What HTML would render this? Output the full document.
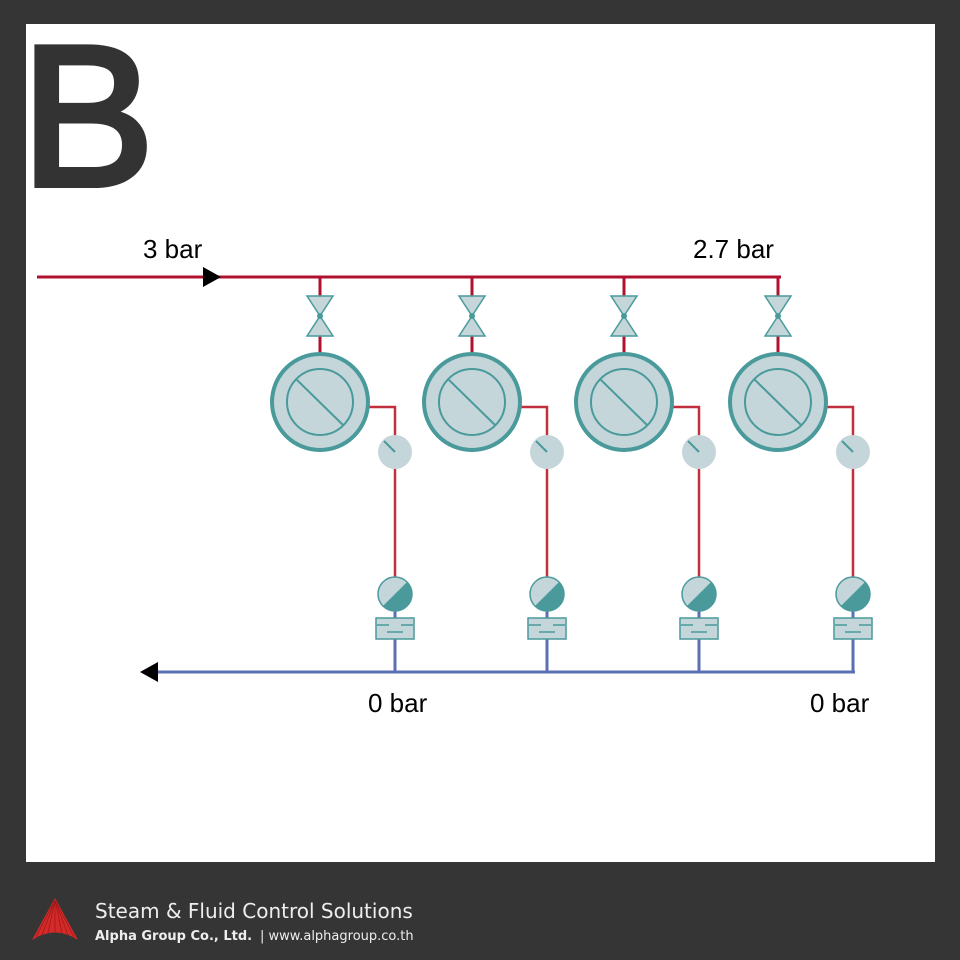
<!DOCTYPE html>
<html><head><meta charset="utf-8"><style>
html,body{margin:0;padding:0;background:#353535;}
svg{display:block}
</style></head><body>
<svg width="960" height="960" viewBox="0 0 960 960" xmlns="http://www.w3.org/2000/svg">
<rect x="0" y="0" width="960" height="960" fill="#353535"/>
<rect x="26" y="24" width="909" height="838" fill="#fff"/>
<text x="21" y="185" font-family="Liberation Sans, sans-serif" font-size="200" fill="#333" stroke="#333" stroke-width="6">B</text>
<g font-family="Liberation Sans, sans-serif" font-size="26" fill="#000">
<text x="143" y="258">3 bar</text>
<text x="693" y="258">2.7 bar</text>
<text x="368" y="712">0 bar</text>
<text x="810" y="712">0 bar</text>
</g>
<line x1="150" y1="672" x2="855" y2="672" stroke="#5b6fb3" stroke-width="3"/>
<polygon points="140,672 158,662 158,682" fill="#000"/>
<line x1="37" y1="277" x2="781" y2="277" stroke="#b0112f" stroke-width="3"/>
<polygon points="221,277 203,267 203,287" fill="#000"/>
<defs>
<g id="unit">
<line x1="0" y1="276" x2="0" y2="356" stroke="#b0112f" stroke-width="3"/>
<polygon points="-13,296 13,296 0,316" fill="#c4d6d9" stroke="#4a9a9c" stroke-width="1.5"/>
<polygon points="-13,336 13,336 0,316" fill="#c4d6d9" stroke="#4a9a9c" stroke-width="1.5"/>
<circle cx="0" cy="316" r="3" fill="#4a9a9c"/>
<polyline points="48,407 75,407 75,578" fill="none" stroke="#c0303f" stroke-width="2.5"/>
<circle cx="0" cy="402" r="48" fill="#c4d6d9" stroke="#4a9a9c" stroke-width="4"/>
<circle cx="0" cy="402" r="33" fill="none" stroke="#4a9a9c" stroke-width="2"/>
<line x1="-24" y1="379" x2="23" y2="425" stroke="#4a9a9c" stroke-width="2"/>
<circle cx="75" cy="452" r="17" fill="#c4d6d9"/>
<line x1="64" y1="441" x2="75" y2="452" stroke="#4a9a9c" stroke-width="2"/>
<line x1="75" y1="610" x2="75" y2="672" stroke="#5b6fb3" stroke-width="3"/>
<circle cx="75" cy="594" r="17" fill="#4a9a9c"/>
<path d="M 62.98,606.02 A 17 17 0 0 1 87.02,581.98 Z" fill="#c4d6d9"/>
<circle cx="75" cy="594" r="17" fill="none" stroke="#4a9a9c" stroke-width="1.5"/>
<rect x="56" y="618" width="38" height="21" fill="#c4d6d9" stroke="#4a9a9c" stroke-width="1.5"/>
<line x1="57" y1="625" x2="69" y2="625" stroke="#4a9a9c" stroke-width="1.5"/>
<line x1="81" y1="625" x2="93" y2="625" stroke="#4a9a9c" stroke-width="1.5"/>
<line x1="67" y1="632" x2="83" y2="632" stroke="#4a9a9c" stroke-width="1.5"/>
</g>
</defs>
<use href="#unit" x="320"/>
<use href="#unit" x="472"/>
<use href="#unit" x="624"/>
<use href="#unit" x="778"/>
<g>
<path d="M55,898 L32,940 Q55,925 78,940 Z" fill="#d42a2a"/>
<g stroke="#a01818" stroke-width="0.8">
<line x1="55" y1="900" x2="36" y2="937"/><line x1="55" y1="900" x2="42" y2="935"/>
<line x1="55" y1="900" x2="48" y2="933"/><line x1="55" y1="900" x2="55" y2="932"/>
<line x1="55" y1="900" x2="62" y2="933"/><line x1="55" y1="900" x2="68" y2="935"/>
<line x1="55" y1="900" x2="74" y2="937"/>
</g>
</g>
<text x="95" y="918" font-family="DejaVu Sans, sans-serif" font-size="20" fill="#eee">Steam &amp; Fluid Control Solutions</text>
<text x="95" y="940" font-family="DejaVu Sans, sans-serif" font-size="13" font-weight="bold" fill="#eee">Alpha Group Co., Ltd.</text>
<text x="260" y="940" font-family="DejaVu Sans, sans-serif" font-size="13" fill="#eee">| www.alphagroup.co.th</text>
</svg>
</body></html>
